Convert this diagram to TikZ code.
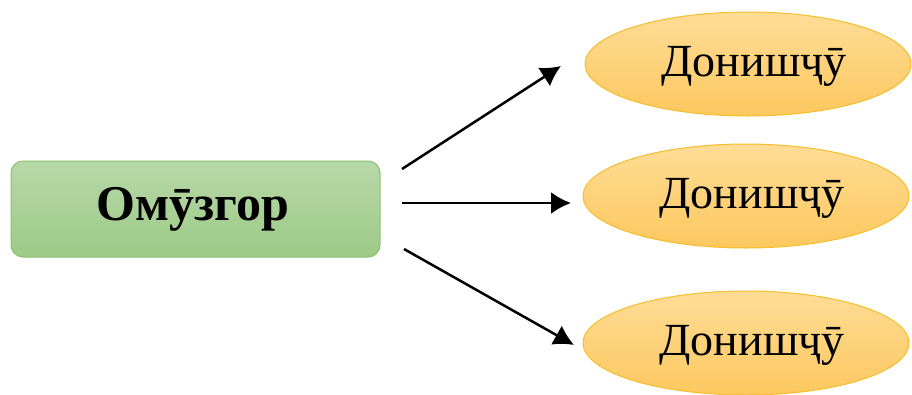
\documentclass[tikz,border=0pt]{standalone}
\usepackage{fontspec}
\setmainfont{Liberation Serif}
\usetikzlibrary{shapes.geometric,arrows.meta}
\definecolor{gborder}{HTML}{8CC06C}
\definecolor{gtop}{HTML}{B7D8A9}
\definecolor{gbot}{HTML}{9DCA85}
\definecolor{oborder}{HTML}{F5BE2A}
\definecolor{otop}{HTML}{FFDC96}
\definecolor{obot}{HTML}{FCC85F}
\tikzset{
  teacher/.style={draw=gborder, line width=1pt, rounded corners=12pt,
    top color=gtop, bottom color=gbot, minimum width=369pt, minimum height=96pt,
    inner sep=0pt},
  student/.style={ellipse, draw=oborder, line width=1pt, top color=otop, bottom color=obot,
    minimum width=326pt, minimum height=104pt, inner sep=0pt},
  tfont/.style={inner sep=0pt, font=\fontsize{50}{54}\selectfont\bfseries},
  sfont/.style={inner sep=0pt, font=\fontsize{46}{50}\selectfont},
  arr/.style={line width=2.5pt, -{Latex[length=20pt,width=22pt]}}
}
\begin{document}
\begin{tikzpicture}[x=1pt,y=-1pt]
\useasboundingbox (0,0) rectangle (912,394);
\node[teacher] (t) at (195.5,209) {};
\node[tfont] (tl) at (193,209) {Омӯзгор};
\node[student] (s1) at (748,64) {};
\node[student] (s2) at (746,196) {};
\node[student] (s3) at (746,343) {};
\node[sfont] (l1) at (754,66) {Донишҷӯ};
\node[sfont] (l2) at (752,198) {Донишҷӯ};
\node[sfont] (l3) at (752,345) {Донишҷӯ};
\coordinate (a1) at (402,169);
\coordinate (b1) at (561,66);
\coordinate (a2) at (402,203);
\coordinate (b2) at (571,203);
\coordinate (a3) at (404,249);
\coordinate (b3) at (574,345);
\draw[arr] (a1) -- (b1);
\draw[arr] (a2) -- (b2);
\draw[arr] (a3) -- (b3);
\end{tikzpicture}
\end{document}
